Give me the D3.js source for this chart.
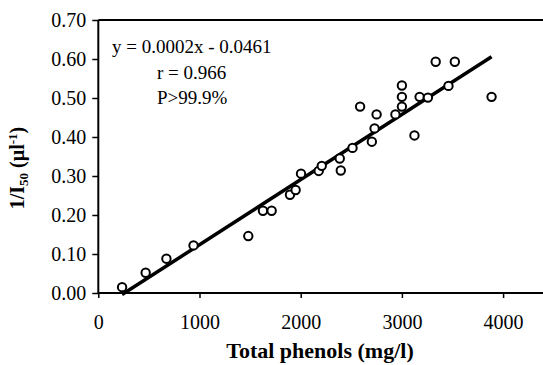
<!DOCTYPE html>
<html>
<head>
<meta charset="utf-8">
<script src="https://cdn.jsdelivr.net/npm/d3@7"></script>
<style>
  html, body { margin: 0; padding: 0; background: #fff; }
  svg { display: block; }
  text { font-family: "Liberation Serif", "Times New Roman", serif; fill: #000; }
</style>
</head>
<body>
<svg id="chart" width="543" height="365"></svg>
<script>
// Data
const phenols = [235, 468, 673, 941, 1482, 1627, 1713, 1894, 1950, 2003,
                 2178, 2208, 2396, 2386, 2512, 2587, 2703, 2730, 2750, 2936,
                 3000, 3000, 3000, 3124, 3175, 3257, 3334, 3460, 3523, 3886];
const invI50 = [0.015, 0.052, 0.088, 0.122, 0.146, 0.211, 0.211, 0.252, 0.264, 0.306,
                0.313, 0.326, 0.314, 0.345, 0.372, 0.478, 0.388, 0.422, 0.458, 0.458,
                0.478, 0.503, 0.532, 0.404, 0.503, 0.501, 0.593, 0.531, 0.593, 0.503];
const fitX = [235, 3886];
const fitY = [-0.004, 0.606];
const xTicks = [0, 1000, 2000, 3000, 4000];
const yTicks = [0, 0.1, 0.2, 0.3, 0.4, 0.5, 0.6, 0.7];
const annotations = ["y = 0.0002x - 0.0461", "r = 0.966", "P>99.9%"];
const xTitle = "Total phenols (mg/l)";

const svg = d3.select("#chart");
const x = d3.scaleLinear().domain([0, 4500]).range([98.3, 553.7]);
const y = d3.scaleLinear().domain([0, 0.7]).range([293, 20]);

// top border of plot area
svg.append("line")
  .attr("x1", x(0)).attr("x2", x(4500))
  .attr("y1", y(0.7)).attr("y2", y(0.7))
  .attr("stroke", "#000").attr("stroke-width", 2);

// axes
const xAxis = svg.append("g")
  .attr("transform", `translate(0,${y(0)})`)
  .call(d3.axisBottom(x).tickValues(xTicks).tickFormat(d3.format("d")).tickSize(5).tickPadding(17));
const yAxis = svg.append("g")
  .attr("transform", `translate(${x(0)},0)`)
  .call(d3.axisLeft(y).tickValues(yTicks).tickFormat(d3.format(".2f")).tickSize(6).tickPadding(6));

[xAxis, yAxis].forEach(g => {
  g.select(".domain").attr("stroke", "#000").attr("stroke-width", 2);
  g.selectAll(".tick line").attr("stroke", "#000").attr("stroke-width", 1.5);
  g.selectAll(".tick text")
    .style("font-family", '"Liberation Serif", serif')
    .style("font-size", "20px").attr("fill", "#000");
});
xAxis.select(".domain").attr("d", `M${x(0)},0H${x(4500)}`);
yAxis.select(".domain").attr("d", `M0,${y(0)}V${y(0.7)}`);

// regression line
svg.append("line")
  .attr("x1", x(fitX[0])).attr("y1", y(fitY[0]))
  .attr("x2", x(fitX[1])).attr("y2", y(fitY[1]))
  .attr("stroke", "#000").attr("stroke-width", 3.5);

// points
svg.append("g").selectAll("circle")
  .data(phenols.map((v, i) => [v, invI50[i]]))
  .join("circle")
  .attr("cx", d => x(d[0]))
  .attr("cy", d => y(d[1]))
  .attr("r", 4.2)
  .attr("fill", "#fff")
  .attr("stroke", "#000")
  .attr("stroke-width", 2);

// annotations
const ann = svg.append("g").style("font-size", "19px");
ann.append("text").attr("x", 112).attr("y", 53).text(annotations[0]);
ann.append("text").attr("x", 157).attr("y", 79).text(annotations[1]);
ann.append("text").attr("x", 157).attr("y", 104).text(annotations[2]);

// axis titles
svg.append("text")
  .attr("x", 320).attr("y", 358)
  .attr("text-anchor", "middle")
  .style("font-size", "22px").style("font-weight", "bold")
  .text(xTitle);

const yt = svg.append("text")
  .attr("transform", "translate(24,168) rotate(-90)")
  .attr("text-anchor", "middle")
  .style("font-size", "20px").style("font-weight", "bold");
yt.append("tspan").text("1/I");
yt.append("tspan").attr("dy", 4).style("font-size", "13px").text("50");
yt.append("tspan").attr("dy", -4).text(" (µl");
yt.append("tspan").attr("dy", -7).style("font-size", "13px").text("-1");
yt.append("tspan").attr("dy", 7).text(")");
</script>
</body>
</html>
